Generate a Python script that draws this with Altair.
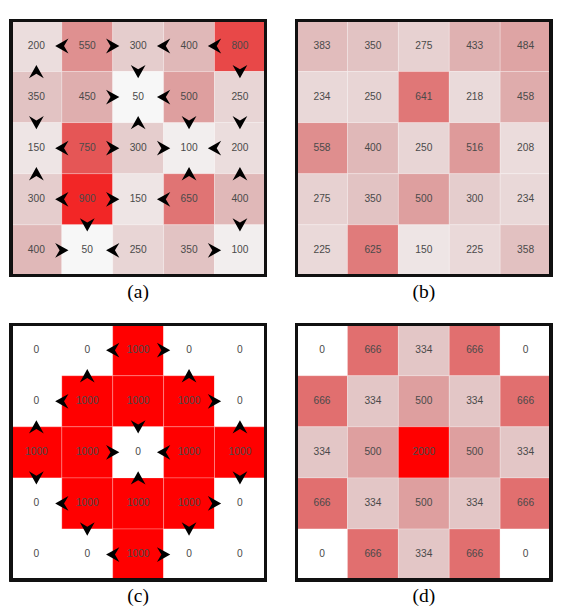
import altair as alt
import pandas as pd

# ---- data -------------------------------------------------------------
values_a = [[200, 550, 300, 400, 800],
            [350, 450, 50, 500, 250],
            [150, 750, 300, 100, 200],
            [300, 900, 150, 650, 400],
            [400, 50, 250, 350, 100]]
values_b = [[383, 350, 275, 433, 484],
            [234, 250, 641, 218, 458],
            [558, 400, 250, 516, 208],
            [275, 350, 500, 300, 234],
            [225, 625, 150, 225, 358]]
values_c = [[0, 0, 1000, 0, 0],
            [0, 1000, 1000, 1000, 0],
            [1000, 1000, 0, 1000, 1000],
            [0, 1000, 1000, 1000, 0],
            [0, 0, 1000, 0, 0]]
values_d = [[0, 666, 334, 666, 0],
            [666, 334, 500, 334, 666],
            [334, 500, 2000, 500, 334],
            [666, 334, 500, 334, 666],
            [0, 666, 334, 666, 0]]

# arrows: horizontal "<"/">" -> (dir, row, boundary column);
#         vertical "^"/"v"   -> (dir, boundary row, column)
arrows_a = [("<", 0, 1), (">", 0, 2), ("<", 0, 3), ("<", 0, 4),
            ("^", 1, 0), ("v", 1, 2), ("v", 1, 4),
            (">", 1, 2), ("<", 1, 3),
            ("v", 2, 0), ("^", 2, 2), ("v", 2, 3), ("v", 2, 4),
            ("<", 2, 1), (">", 2, 2), (">", 2, 3), ("<", 2, 4),
            ("^", 3, 0), ("^", 3, 3), ("^", 3, 4),
            ("<", 3, 1), (">", 3, 2), ("<", 3, 3),
            ("v", 4, 1), ("v", 4, 4),
            (">", 4, 1), ("<", 4, 2), (">", 4, 4)]
arrows_c = [("<", 0, 2), (">", 0, 3),
            ("^", 1, 1), ("^", 1, 3),
            ("<", 1, 1), (">", 1, 4),
            ("^", 2, 0), ("v", 2, 2), ("^", 2, 4),
            (">", 2, 2), ("<", 2, 3),
            ("v", 3, 0), ("^", 3, 2), ("v", 3, 4),
            ("<", 3, 1), (">", 3, 4),
            ("v", 4, 1), ("v", 4, 3),
            ("<", 4, 2), (">", 4, 3)]

labels = ["(a)", "(b)", "(c)", "(d)"]

# ---- styling ------------------------------------------------------------
color_domain = [0, 50, 100, 150, 200, 250, 300, 350, 400, 450, 500,
                550, 600, 650, 700, 750, 800, 900, 1000]
color_range = ["#ffffff", "#f7f7f7", "#f2eeee", "#eee5e5", "#ebdddd",
               "#e8d5d5", "#e5cdcd", "#e2c3c3", "#e0b8b8", "#dfaeae",
               "#de9f9f", "#df9090", "#e08282", "#e07474", "#e26464",
               "#e55656", "#e84848", "#f22626", "#ff0000"]

shape_domain = ["<", ">", "^", "v"]
shape_range = ["M 0.9 -1 L -0.9 0 L 0.9 1 L 0.3 0 Z",
               "M -0.9 -1 L 0.9 0 L -0.9 1 L -0.3 0 Z",
               "M -1 0.9 L 0 -0.9 L 1 0.9 L 0 0.3 Z",
               "M -1 -0.9 L 0 0.9 L 1 -0.9 L 0 -0.3 Z"]

W, H = 261, 262


def grid_df(vals):
    rows = []
    for r, row in enumerate(vals):
        for c, v in enumerate(row):
            rows.append({"row": r, "col": c, "value": v})
    return pd.DataFrame(rows)


def arrow_df(arrows):
    rows = []
    for d, a, b in arrows:
        if d in "<>":
            rows.append({"dir": d, "x": b, "y": a + 0.5})
        else:
            rows.append({"dir": d, "x": b + 0.5, "y": a})
    return pd.DataFrame(rows)


xs = alt.Scale(domain=[0, 5], nice=False, zero=False)
ys = alt.Scale(domain=[0, 5], nice=False, zero=False, reverse=True)


def panel(vals, label, arrows=None):
    df = grid_df(vals)
    base = alt.Chart(df).transform_calculate(
        x0="datum.col", x1="datum.col + 1",
        y0="datum.row", y1="datum.row + 1",
        xc="datum.col + 0.5", yc="datum.row + 0.5")
    rect = base.mark_rect(stroke="white", strokeOpacity=0.25, strokeWidth=1).encode(
        x=alt.X("x0:Q", scale=xs, axis=None),
        x2="x1:Q",
        y=alt.Y("y0:Q", scale=ys, axis=None),
        y2="y1:Q",
        color=alt.Color("value:Q", legend=None,
                        scale=alt.Scale(domain=color_domain, range=color_range,
                                        clamp=True, interpolate="rgb")))
    text = base.mark_text(font="Liberation Sans", fontSize=10.5,
                          fill="#4a4a4a").encode(
        x=alt.X("xc:Q", scale=xs, axis=None),
        y=alt.Y("yc:Q", scale=ys, axis=None),
        text="value:Q")
    layers = [rect, text]
    if arrows is not None:
        ar = alt.Chart(arrow_df(arrows)).mark_point(
            filled=True, fill="black", opacity=1, size=230, strokeWidth=0).encode(
            x=alt.X("x:Q", scale=xs, axis=None),
            y=alt.Y("y:Q", scale=ys, axis=None),
            shape=alt.Shape("dir:N", legend=None,
                            scale=alt.Scale(domain=shape_domain, range=shape_range)))
        layers.append(ar)
    border = alt.Chart(df).mark_rect(fill=None, filled=False, stroke="#111111",
                                     strokeWidth=2.5).encode(
        x=alt.value(0), x2=alt.value(W), y=alt.value(0), y2=alt.value(H))
    layers.append(border)
    return alt.layer(*layers).properties(
        width=W, height=H,
        title=alt.TitleParams(label, orient="bottom", font="Liberation Serif",
                              fontSize=20, fontWeight="normal", color="black",
                              offset=5, anchor="middle"))


top = alt.hconcat(panel(values_a, labels[0], arrows_a),
                  panel(values_b, labels[1]), spacing=28)
bottom = alt.hconcat(panel(values_c, labels[2], arrows_c),
                     panel(values_d, labels[3]), spacing=28)

chart = alt.vconcat(top, bottom, spacing=21).properties(
    padding={"left": 1, "top": 3, "right": 0, "bottom": 0}
).configure_view(stroke=None).configure(background="white")

chart.save("out.html", embed_options={"renderer": "svg", "actions": False})
